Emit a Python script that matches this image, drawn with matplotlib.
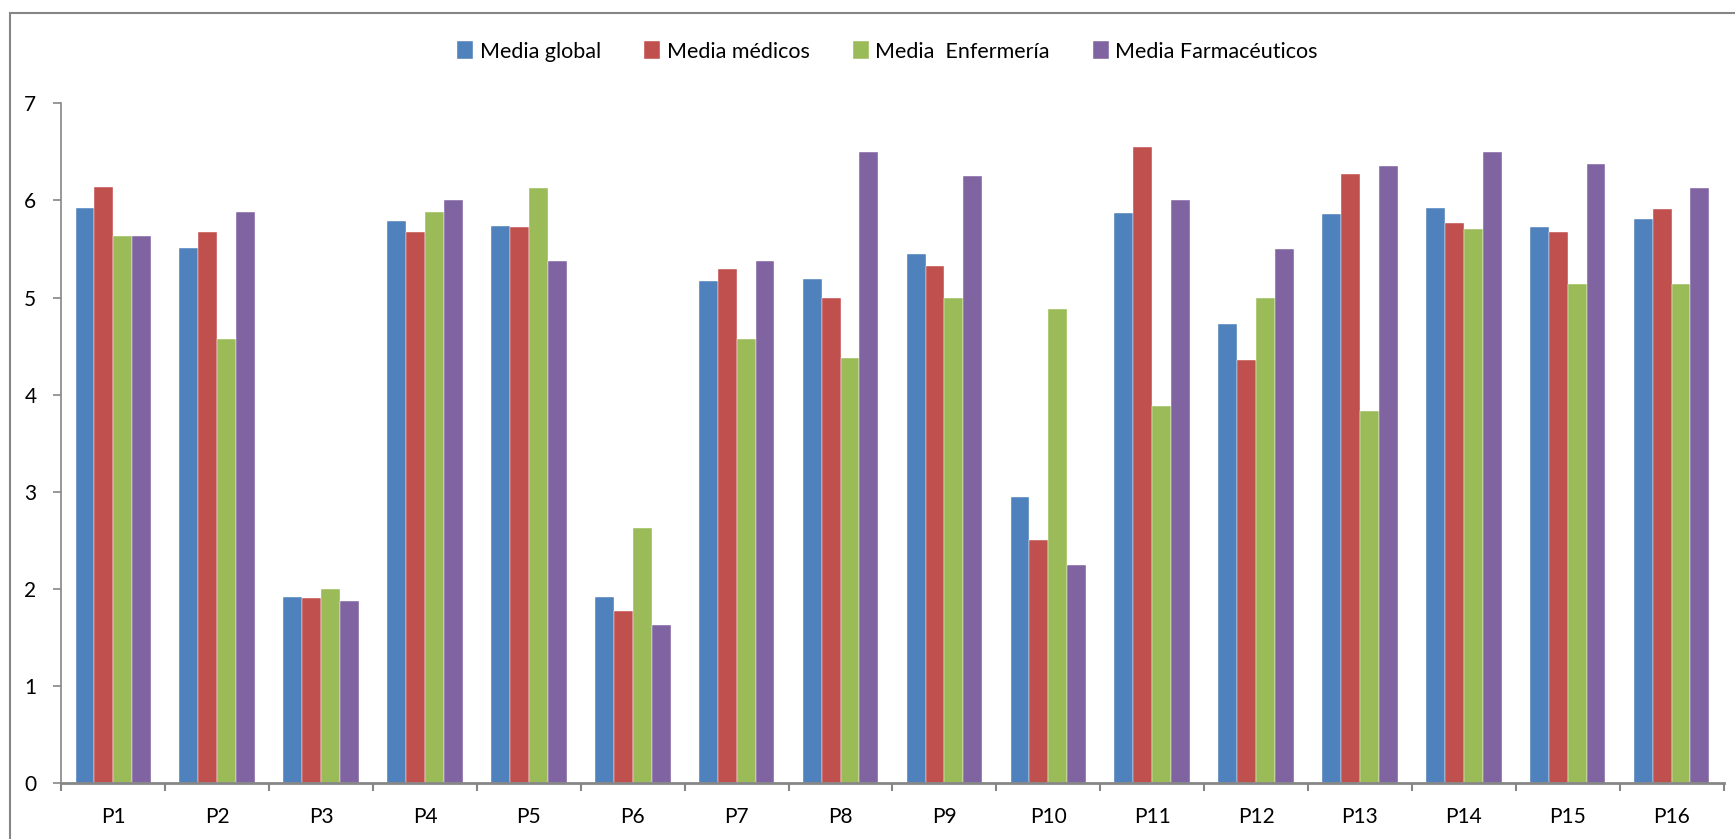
import numpy as np
import matplotlib.pyplot as plt
from matplotlib.patches import Rectangle

categories = ['P{}'.format(i) for i in range(1, 17)]

media_global = [5.92, 5.51, 1.92, 5.79, 5.74, 1.92, 5.17, 5.19,
                5.45, 2.95, 5.87, 4.73, 5.86, 5.92, 5.73, 5.81]
media_medicos = [6.14, 5.68, 1.91, 5.68, 5.73, 1.77, 5.29, 5.00,
                 5.32, 2.50, 6.55, 4.36, 6.27, 5.77, 5.68, 5.91]
media_enfermeria = [5.63, 4.57, 2.00, 5.88, 6.13, 2.63, 4.57, 4.38,
                    5.00, 4.88, 3.88, 5.00, 3.83, 5.71, 5.14, 5.14]
media_farmaceuticos = [5.63, 5.88, 1.88, 6.00, 5.38, 1.63, 5.38, 6.50,
                       6.25, 2.25, 6.00, 5.50, 6.35, 6.50, 6.38, 6.13]

series = [
    ('Media global', media_global, '#4F81BD'),
    ('Media médicos', media_medicos, '#C0504D'),
    ('Media  Enfermería', media_enfermeria, '#9BBB59'),
    ('Media Farmacéuticos', media_farmaceuticos, '#8064A2'),
]

plt.rcParams['font.family'] = ['Lato', 'DejaVu Sans']

fig = plt.figure(figsize=(17.35, 8.39), dpi=100)
ax = fig.add_axes([0.0354, 0.0664, 0.958, 0.8105])

# chart area frame (only top and left edges fall inside the image)
fig.patches.append(Rectangle((0.0058, -0.5), 2.0, 1.4845, transform=fig.transFigure,
                             fill=False, edgecolor='#868686', linewidth=1.5))

x = np.arange(len(categories))
width = 1 / 5.5
for i, (label, vals, color) in enumerate(series):
    ax.bar(x + (i - 1.5) * width, vals, width, color=color, label=label,
           edgecolor='white', linewidth=0.3)

ax.set_xlim(-0.5, len(categories) - 0.5)
ax.set_ylim(0, 7)
ax.set_yticks(range(0, 8))

ax.set_xticks(x)
ax.set_xticklabels(categories)
ax.set_xticks(np.arange(-0.5, len(categories)), minor=True)
ax.tick_params(axis='x', which='major', length=0, pad=17, labelsize=15)
ax.tick_params(axis='x', which='minor', length=6, width=1.5, color='#868686')
ax.tick_params(axis='y', length=6, width=1.2, color='#868686', pad=12, labelsize=15)

for side in ['top', 'right']:
    ax.spines[side].set_visible(False)
ax.spines['left'].set_color('#868686')
ax.spines['left'].set_linewidth(1.2)
ax.spines['bottom'].set_color('#868686')
ax.spines['bottom'].set_linewidth(2)

ax.legend(loc='center', bbox_to_anchor=(0.497, 1.076), ncol=4, frameon=False,
          fontsize=15.5, handlelength=0.75, handleheight=0.9, handletextpad=0.3,
          columnspacing=2.0)

fig.savefig('out.png', dpi=100)
